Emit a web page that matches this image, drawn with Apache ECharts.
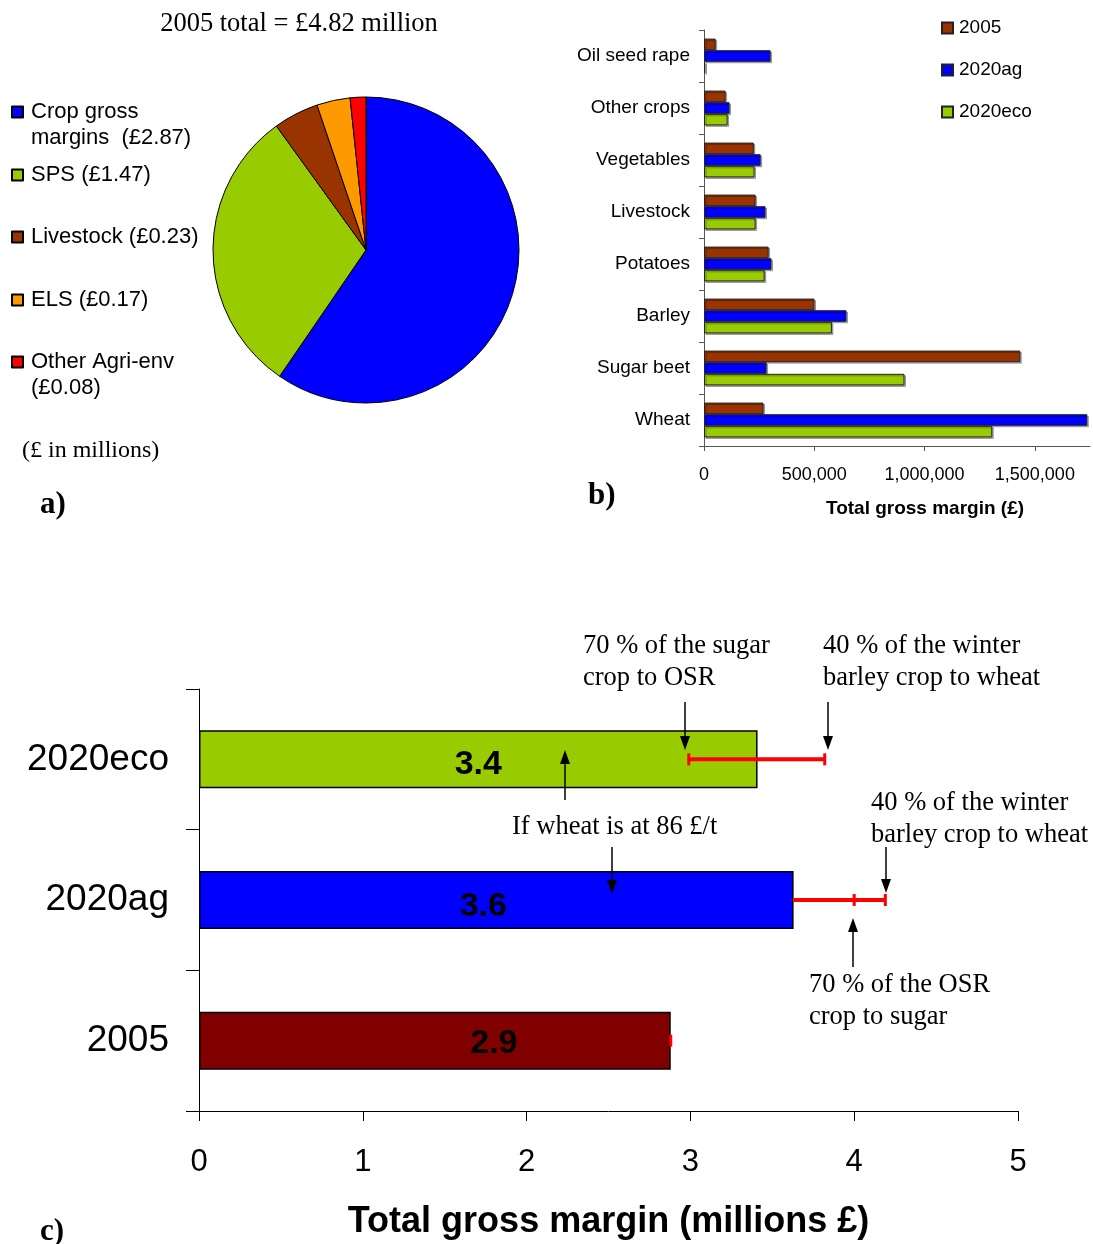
<!DOCTYPE html>
<html>
<head>
<meta charset="utf-8">
<script src="https://cdn.jsdelivr.net/npm/echarts@6/dist/echarts.min.js"></script>
<style>
  html, body { margin: 0; padding: 0; background: #fff; }
  #chart { width: 1093px; height: 1244px; }
</style>
</head>
<body>
<div id="chart"></div>
<script>
// a) 2005 income split (£ millions)
const pieNames = ['Crop gross margins', 'SPS', 'Livestock', 'ELS', 'Other Agri-env']
const pieValues = [2.87, 1.47, 0.23, 0.17, 0.08]
const pieColors = ['#0000ff', '#99cc00', '#993300', '#ff9900', '#ff0000']

// b) gross margin by crop (£), top to bottom
const cropCats = ['Oil seed rape', 'Other crops', 'Vegetables', 'Livestock', 'Potatoes', 'Barley', 'Sugar beet', 'Wheat']
const gm2005 = [53000, 98000, 226000, 234000, 293000, 501000, 1434000, 270000]
const gm2020ag = [302000, 116000, 257000, 279000, 306000, 646000, 284000, 1738000]
const gm2020eco = [6000, 107000, 229000, 234000, 275000, 580000, 909000, 1307000]

// c) total gross margin (millions £), bottom to top
const scenarios = ['2005', '2020ag', '2020eco']
const totals = [2.88, 3.63, 3.41]
const rangeLow = [2.88, 3.63, 2.99]
const rangeMid = [null, 4.0, null]
const rangeHigh = [2.88, 4.19, 3.82]

const SANS = 'Liberation Sans'
const SERIF = 'Liberation Serif'

const chart = echarts.init(document.getElementById('chart'))

// pie legend: one legend per entry so the icon sits on the first text line
const pieLegendCenters = [112, 175, 237, 300, 362]
const pieLegendText = {
  'Crop gross margins': '\nCrop gross\nmargins  (£2.87)',
  'SPS': 'SPS (£1.47)',
  'Livestock': 'Livestock (£0.23)',
  'ELS': 'ELS (£0.17)',
  'Other Agri-env': '\nOther Agri-env\n(£0.08)'
}
const pieLegends = pieNames.map((name, i) => {
  const multi = pieLegendText[name].indexOf('\n') === 0
  return {
    data: [{ name: name, icon: 'rect' }],
    left: 11,
    top: pieLegendCenters[i] - (multi ? 39 : 13),
    padding: 0,
    itemWidth: 11,
    itemHeight: 11,
    selectedMode: false,
    formatter: n => pieLegendText[n],
    textStyle: { fontFamily: SANS, fontSize: 22, lineHeight: 26, color: '#000', padding: [0, 0, 0, 3] }
  }
})

function arrow(x, y1, y2) {
  const dir = y2 > y1 ? 1 : -1
  const base = y2 - dir * 14
  return [
    { type: 'line', z: 100, shape: { x1: x, y1: y1, x2: x, y2: base }, style: { stroke: '#000', lineWidth: 1.5 } },
    { type: 'polygon', z: 100, shape: { points: [[x - 5, base], [x + 5, base], [x, y2]] }, style: { fill: '#000' } }
  ]
}

function serifText(x, y, text) {
  return {
    type: 'text', left: x, top: y, z: 100,
    style: { text: text, fontFamily: SERIF, fontSize: 26.5, lineHeight: 32, fill: '#000' }
  }
}

const graphics = [
  { type: 'text', x: 299, y: 24, style: { text: '2005 total = £4.82 million', fontFamily: SERIF, fontSize: 26.5, fill: '#000', align: 'center', verticalAlign: 'middle' } },
  { type: 'text', x: 22, y: 451, style: { text: '(£ in millions)', fontFamily: SERIF, fontSize: 24, fill: '#000', verticalAlign: 'middle' } },
  { type: 'text', x: 40, y: 505, style: { text: 'a)', fontFamily: SERIF, fontSize: 31, fontWeight: 'bold', fill: '#000', verticalAlign: 'middle' } },
  { type: 'text', x: 588, y: 496, style: { text: 'b)', fontFamily: SERIF, fontSize: 31, fontWeight: 'bold', fill: '#000', verticalAlign: 'middle' } },
  { type: 'text', x: 40, y: 1232, style: { text: 'c)', fontFamily: SERIF, fontSize: 31, fontWeight: 'bold', fill: '#000', verticalAlign: 'middle' } },
  serifText(583, 630, '70 % of the sugar\ncrop to OSR'),
  serifText(823, 630, '40 % of the winter\nbarley crop to wheat'),
  serifText(512, 811, 'If wheat is at 86 £/t'),
  serifText(871, 787, '40 % of the winter\nbarley crop to wheat'),
  serifText(809, 969, '70 % of the OSR\ncrop to sugar')
].concat(
  arrow(685, 702, 750),
  arrow(828, 702, 750),
  arrow(565, 800, 750),
  arrow(612, 847, 894),
  arrow(886, 847, 893),
  arrow(853, 967, 918)
)

const barBorder = { borderColor: '#222', borderWidth: 1, shadowColor: 'rgba(0,0,0,0.3)', shadowOffsetX: 1.5, shadowOffsetY: 1.5 }

chart.setOption({
  animation: false,
  backgroundColor: '#fff',
  legend: pieLegends.concat([{
    data: ['2005', '2020ag', '2020eco'].map(n => ({ name: n, icon: 'rect' })),
    orient: 'vertical',
    left: 941,
    top: 18,
    padding: 0,
    itemGap: 22,
    itemWidth: 11,
    itemHeight: 11,
    selectedMode: false,
    textStyle: { fontFamily: SANS, fontSize: 19, lineHeight: 20, color: '#000', padding: [0, 0, 0, 1] }
  }]),
  grid: [
    { left: 704, top: 30, width: 386, height: 416, containLabel: false },
    { left: 199, top: 689, width: 819, height: 422, containLabel: false }
  ],
  xAxis: [
    {
      gridIndex: 0,
      type: 'value',
      min: 0,
      max: 1750000,
      interval: 500000,
      axisLine: { show: true, lineStyle: { color: '#555' } },
      axisTick: { show: true, length: 5, lineStyle: { color: '#555' } },
      axisLabel: {
        showMaxLabel: false,
        margin: 20,
        fontFamily: SANS, fontSize: 18, color: '#000',
        formatter: v => v.toLocaleString('en-GB')
      },
      splitLine: { show: false },
      name: 'Total gross margin (£)',
      nameLocation: 'middle',
      nameGap: 53,
      nameTextStyle: { fontFamily: SANS, fontSize: 19, fontWeight: 'bold', color: '#000', padding: [0, 0, 0, 56] }
    },
    {
      gridIndex: 1,
      type: 'value',
      min: 0,
      max: 5,
      interval: 1,
      axisLine: { show: true, lineStyle: { color: '#000' } },
      axisTick: { show: true, length: 10, lineStyle: { color: '#000' } },
      axisLabel: { margin: 36, fontFamily: SANS, fontSize: 31, color: '#000' },
      splitLine: { show: false },
      name: 'Total gross margin (millions £)',
      nameLocation: 'middle',
      nameGap: 93,
      nameTextStyle: { fontFamily: SANS, fontSize: 36, fontWeight: 'bold', color: '#000', verticalAlign: 'top' }
    }
  ],
  yAxis: [
    {
      gridIndex: 0,
      type: 'category',
      data: cropCats,
      inverse: true,
      axisLine: { show: true, lineStyle: { color: '#555' } },
      axisTick: { show: true, length: 5, lineStyle: { color: '#555' } },
      axisLabel: { margin: 14, fontFamily: SANS, fontSize: 19, color: '#000', padding: [3, 0, 0, 0] }
    },
    {
      gridIndex: 1,
      type: 'category',
      data: scenarios,
      axisLine: { show: true, lineStyle: { color: '#000' } },
      axisTick: { show: true, length: 13, lineStyle: { color: '#000' } },
      axisLabel: { margin: 30, fontFamily: SANS, fontSize: 37, color: '#000', padding: [5, 0, 0, 0] }
    }
  ],
  graphic: graphics,
  series: [
    {
      type: 'pie',
      center: [366, 250],
      radius: 153,
      startAngle: 90,
      clockwise: true,
      label: { show: false },
      labelLine: { show: false },
      emphasis: { disabled: true },
      itemStyle: { borderColor: '#000', borderWidth: 1 },
      data: pieNames.map((n, i) => ({ name: n, value: pieValues[i], itemStyle: { color: pieColors[i] } }))
    },
    {
      name: '2005', type: 'bar', xAxisIndex: 0, yAxisIndex: 0,
      data: gm2005, barGap: '0%', barCategoryGap: '33%',
      itemStyle: Object.assign({ color: '#993300' }, barBorder)
    },
    {
      name: '2020ag', type: 'bar', xAxisIndex: 0, yAxisIndex: 0,
      data: gm2020ag, barGap: '0%', barCategoryGap: '33%',
      itemStyle: Object.assign({ color: '#0000ff' }, barBorder)
    },
    {
      name: '2020eco', type: 'bar', xAxisIndex: 0, yAxisIndex: 0,
      data: gm2020eco, barGap: '0%', barCategoryGap: '33%',
      itemStyle: Object.assign({ color: '#99cc00' }, barBorder)
    },
    {
      name: 'totals', type: 'bar', xAxisIndex: 1, yAxisIndex: 1,
      barWidth: 58,
      data: totals.map((v, i) => ({
        value: v,
        itemStyle: { color: ['#800000', '#0000ff', '#99cc00'][i] },
        label: { offset: [[59, 3], [-13, 7], [0, 5]][i] }
      })),
      itemStyle: { borderColor: '#000', borderWidth: 1.5 },
      label: {
        show: true,
        position: 'inside',
        formatter: p => p.value.toFixed(1),
        fontFamily: SANS, fontSize: 34, fontWeight: 'bold', color: '#000'
      }
    },
    {
      name: 'range', type: 'custom', xAxisIndex: 1, yAxisIndex: 1,
      data: scenarios.map((s, i) => [i, rangeLow[i], rangeHigh[i], rangeMid[i]]),
      encode: { x: [1, 2], y: 0 },
      z: 5,
      renderItem: function (params, api) {
        const idx = api.value(0)
        const p1 = api.coord([api.value(1), idx])
        const p2 = api.coord([api.value(2), idx])
        const red = { stroke: '#ff0000', lineWidth: 4 }
        const cap = (x, h) => ({ type: 'line', shape: { x1: x, y1: p1[1] - h, x2: x, y2: p1[1] + h }, style: { stroke: '#ff0000', lineWidth: 3 } })
        const children = []
        if (p2[0] - p1[0] < 1) {
          children.push(cap(p1[0], 6))
          return { type: 'group', children: children }
        }
        children.push({ type: 'line', shape: { x1: p1[0], y1: p1[1], x2: p2[0], y2: p2[1] }, style: red })
        children.push(cap(p2[0], 6))
        const mid = rangeMid[idx]
        if (mid != null) {
          children.push(cap(api.coord([mid, idx])[0], 6))
        } else {
          children.push(cap(p1[0], 6))
        }
        return { type: 'group', children: children }
      }
    }
  ]
})
</script>
</body>
</html>
